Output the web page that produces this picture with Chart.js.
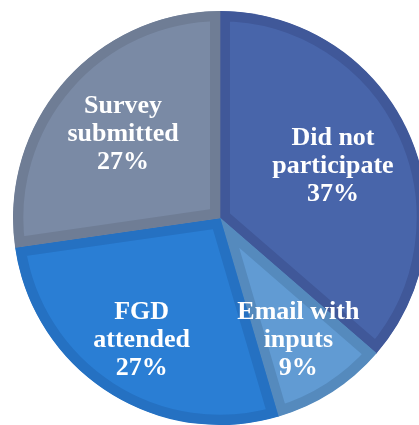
<!DOCTYPE html>
<html>
<head>
<meta charset="utf-8">
<script src="https://cdn.jsdelivr.net/npm/chart.js@4/dist/chart.umd.min.js"></script>
<style>
  html, body { margin: 0; padding: 0; background: #ffffff; overflow: hidden; width: 419px; height: 425px; }
  #wrap { position: absolute; left: 0; top: 0; width: 440px; height: 436px; }
</style>
</head>
<body>
<div id="wrap"><canvas id="c" width="440" height="436"></canvas></div>
<script>
// Data
const categories = ['Did not participate', 'Email with inputs', 'FGD attended', 'Survey submitted'];
const labelLines = [['Did not', 'participate'], ['Email with', 'inputs'], ['FGD', 'attended'], ['Survey', 'submitted']];
const values = [36.4, 9.1, 27.3, 27.3];
const percentLabels = ['37%', '9%', '27%', '27%'];

const fillColors = ['#4865AA', '#619BD3', '#2A7ED4', '#7A8AA5'];
const borderColors = ['#405899', '#558ABD', '#2571C2', '#6F7D95'];
const labelRadius = [0.60, 0.70, 0.70, 0.62];

const sliceLabels = {
  id: 'sliceLabels',
  afterDatasetsDraw(chart) {
    const ctx = chart.ctx;
    const meta = chart.getDatasetMeta(0);
    ctx.save();
    ctx.fillStyle = '#ffffff';
    ctx.font = 'bold 26px "Liberation Serif"';
    ctx.textAlign = 'center';
    ctx.textBaseline = 'middle';
    meta.data.forEach((arc, i) => {
      const p = arc.getProps(['x', 'y', 'startAngle', 'endAngle', 'outerRadius'], true);
      const mid = (p.startAngle + p.endAngle) / 2;
      const r = p.outerRadius * labelRadius[i];
      const cx = p.x + Math.cos(mid) * r;
      const cy = p.y + Math.sin(mid) * r;
      const lines = labelLines[i].concat([percentLabels[i]]);
      const lh = 28;
      const y0 = cy - (lines.length - 1) * lh / 2;
      lines.forEach((t, k) => ctx.fillText(t, cx, y0 + k * lh));
    });
    ctx.restore();
  }
};

new Chart(document.getElementById('c'), {
  type: 'pie',
  data: {
    labels: categories,
    datasets: [{
      data: values,
      backgroundColor: fillColors,
      borderColor: borderColors,
      borderWidth: 10,
      hoverBorderWidth: 10,
      borderAlign: 'inner',
      borderJoinStyle: 'miter'
    }]
  },
  options: {
    responsive: false,
    devicePixelRatio: 1,
    animation: false,
    rotation: 0,
    layout: { padding: { left: 13, right: 13, top: 11, bottom: 11 } },
    plugins: {
      legend: { display: false },
      tooltip: { enabled: false }
    },
    events: []
  },
  plugins: [sliceLabels]
});
</script>
</body>
</html>
